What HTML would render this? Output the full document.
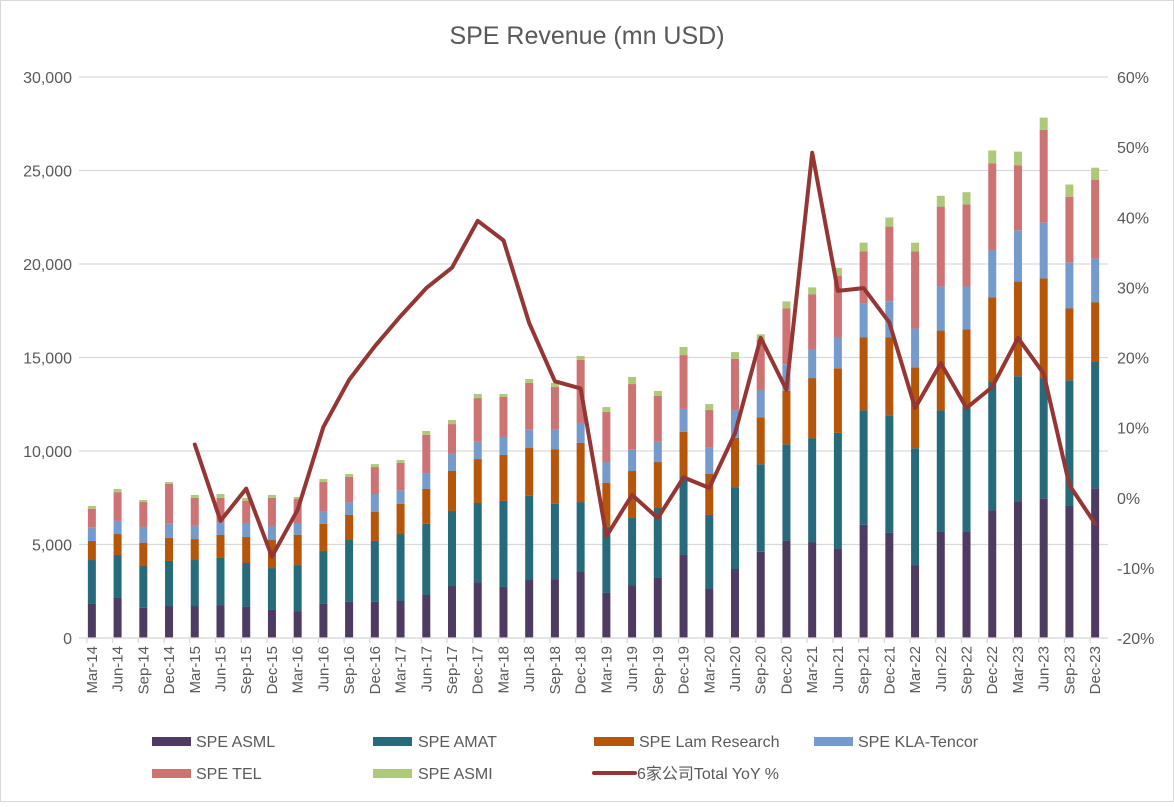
<!DOCTYPE html>
<html><head><meta charset="utf-8"><style>
body{margin:0;background:#fff;}
svg text{font-family:"Liberation Sans","Noto Sans CJK SC",sans-serif;fill:#595959;}
</style></head><body>
<svg id="chart" width="1174" height="802" xmlns="http://www.w3.org/2000/svg">
<rect x="0.5" y="0.5" width="1173" height="801" fill="#fff" stroke="#d9d9d9"/>
<text x="587" y="44" text-anchor="middle" font-size="25">SPE Revenue (mn USD)</text>
<g id="grid"></g><g id="bars"></g><g id="line"></g><g id="axes"></g>
<g id="legend">
<rect x="152" y="737" width="39" height="9" fill="#4e3b62"/>
<text x="196" y="747" font-size="16">SPE ASML</text>
<rect x="373" y="737" width="39" height="9" fill="#276a7c"/>
<text x="418" y="747" font-size="16">SPE AMAT</text>
<rect x="594" y="737" width="40" height="9" fill="#b5560a"/>
<text x="639" y="747" font-size="16">SPE Lam Research</text>
<rect x="814" y="737" width="39" height="9" fill="#749bcc"/>
<text x="858" y="747" font-size="16">SPE KLA-Tencor</text>
<rect x="152" y="769" width="39" height="9" fill="#cd7373"/>
<text x="196" y="779" font-size="16">SPE TEL</text>
<rect x="373" y="769" width="39" height="9" fill="#afc97a"/>
<text x="418" y="779" font-size="16">SPE ASMI</text>
<line x1="594" y1="773" x2="635" y2="773" stroke="#943634" stroke-width="4" stroke-linecap="round"/>
<text x="637" y="779" font-size="16">6家公司Total YoY %</text>
</g>
</svg>
<script>
const categories=["Mar-14","Jun-14","Sep-14","Dec-14","Mar-15","Jun-15","Sep-15","Dec-15","Mar-16","Jun-16","Sep-16","Dec-16","Mar-17","Jun-17","Sep-17","Dec-17","Mar-18","Jun-18","Sep-18","Dec-18","Mar-19","Jun-19","Sep-19","Dec-19","Mar-20","Jun-20","Sep-20","Dec-20","Mar-21","Jun-21","Sep-21","Dec-21","Mar-22","Jun-22","Sep-22","Dec-22","Mar-23","Jun-23","Sep-23","Dec-23"];
const asml=[1820,2140,1620,1710,1710,1760,1660,1500,1440,1820,1930,1930,1980,2300,2780,2990,2730,3100,3150,3530,2410,2830,3210,4440,2620,3690,4610,5190,5130,4760,6050,5620,3900,5670,5670,6840,7320,7470,7060,8010];
const amat=[2350,2300,2230,2410,2460,2520,2350,2240,2460,2830,3310,3260,3580,3810,4010,4230,4600,4510,4030,3740,3540,3590,3740,4190,3960,4380,4680,5170,5560,6210,6120,6290,6250,6500,6630,6850,6680,6430,6720,6750];
const lam=[1020,1120,1230,1230,1120,1230,1390,1500,1610,1450,1340,1550,1610,1860,2140,2350,2460,2550,2920,3160,2340,2510,2460,2390,2190,2630,2510,2860,3210,3450,3900,4160,4330,4270,4200,4530,5060,5330,3840,3200];
const kla=[710,700,860,760,710,690,750,750,640,690,690,960,730,850,930,930,960,980,1040,1070,1120,1140,1090,1230,1410,1490,1460,1420,1530,1650,1800,1940,2070,2360,2300,2530,2740,2980,2450,2340];
const tel=[1000,1540,1330,2130,1490,1290,1180,1500,1280,1550,1340,1440,1460,2040,1580,2330,2140,2500,2280,3370,2680,3510,2440,2880,2010,2730,2710,2980,2940,3310,2800,3990,4120,4270,4380,4640,3480,4960,3530,4210];
const asmi=[160,170,110,100,160,210,160,160,110,160,160,160,160,210,220,220,160,210,220,210,260,380,270,430,320,370,270,380,380,410,470,490,470,580,660,680,730,660,650,640];
const yoy=[null,null,null,null,7.6,-3.3,1.3,-8.4,-1.7,10.1,16.8,21.6,25.9,29.9,32.8,39.5,36.7,24.9,16.6,15.6,-5.5,0.4,-2.9,2.9,1.4,9.2,22.8,15.4,49.2,29.5,29.9,25.0,12.8,19.2,12.8,15.8,22.8,17.7,1.8,-3.7];
const leftTicks=[0,5000,10000,15000,20000,25000,30000];
const rightTicks=[-20,-10,0,10,20,30,40,50,60];

const NS="http://www.w3.org/2000/svg";
const X0=79,X1=1108,Y0=638,Y1=77;
const band=(X1-X0)/categories.length;
const xc=i=>X0+band*(i+0.5);
const yL=v=>Y0-(v/30000)*(Y0-Y1);
const yR=p=>Y0-((p+20)/80)*(Y0-Y1);
function mk(tag,attrs,parent,txt){const e=document.createElementNS(NS,tag);for(const k in attrs)e.setAttribute(k,attrs[k]);if(txt!==undefined)e.textContent=txt;document.getElementById(parent).appendChild(e);return e;}

leftTicks.forEach(v=>{
  const g=mk('line',{x1:X0,x2:X1,y1:yL(v),y2:yL(v),stroke:'#d9d9d9','stroke-width':1.3},'grid');
  
  
  const t=mk('text',{x:72,y:yL(v)+6,'text-anchor':'end','font-size':16},'axes',v.toLocaleString('en-US'));
  
  
});
rightTicks.forEach(p=>{
  const t=mk('text',{x:1117,y:yR(p)+6,'font-size':16},'axes',p+'%');
  
  
});
const series=[[asml,'#4e3b62','asml'],[amat,'#276a7c','amat'],[lam,'#b5560a','lam'],[kla,'#749bcc','kla'],[tel,'#cd7373','tel'],[asmi,'#afc97a','asmi']];
categories.forEach((c,i)=>{
  let cum=0;
  series.forEach(([arr,col,nm])=>{
    const top=cum+arr[i];
    const r=mk('rect',{x:xc(i)-4,width:8,y:yL(top),height:yL(cum)-yL(top),fill:col},'bars');
    
    
    cum=top;
  });
  const tk=mk('line',{x1:xc(i)-5,x2:xc(i)-5,y1:Y0,y2:Y0+5,stroke:'#d9d9d9','stroke-width':1.3},'axes');
  
  
  const t=mk('text',{x:0,y:0,'text-anchor':'end','font-size':15,transform:`translate(${xc(i)+5},646) rotate(-90)`},'axes',c);
  
  
});
const ax=mk('line',{x1:X0,x2:X1,y1:Y0,y2:Y0,stroke:'#d9d9d9','stroke-width':1.3},'axes');


let d='';
yoy.forEach((p,i)=>{if(p===null)return;d+=(d?'L':'M')+xc(i).toFixed(1)+' '+yR(p).toFixed(1);});
const ln=mk('path',{d:d,fill:'none',stroke:'#943634','stroke-width':4,'stroke-linejoin':'round','stroke-linecap':'round'},'line');


</script>
</body></html>
